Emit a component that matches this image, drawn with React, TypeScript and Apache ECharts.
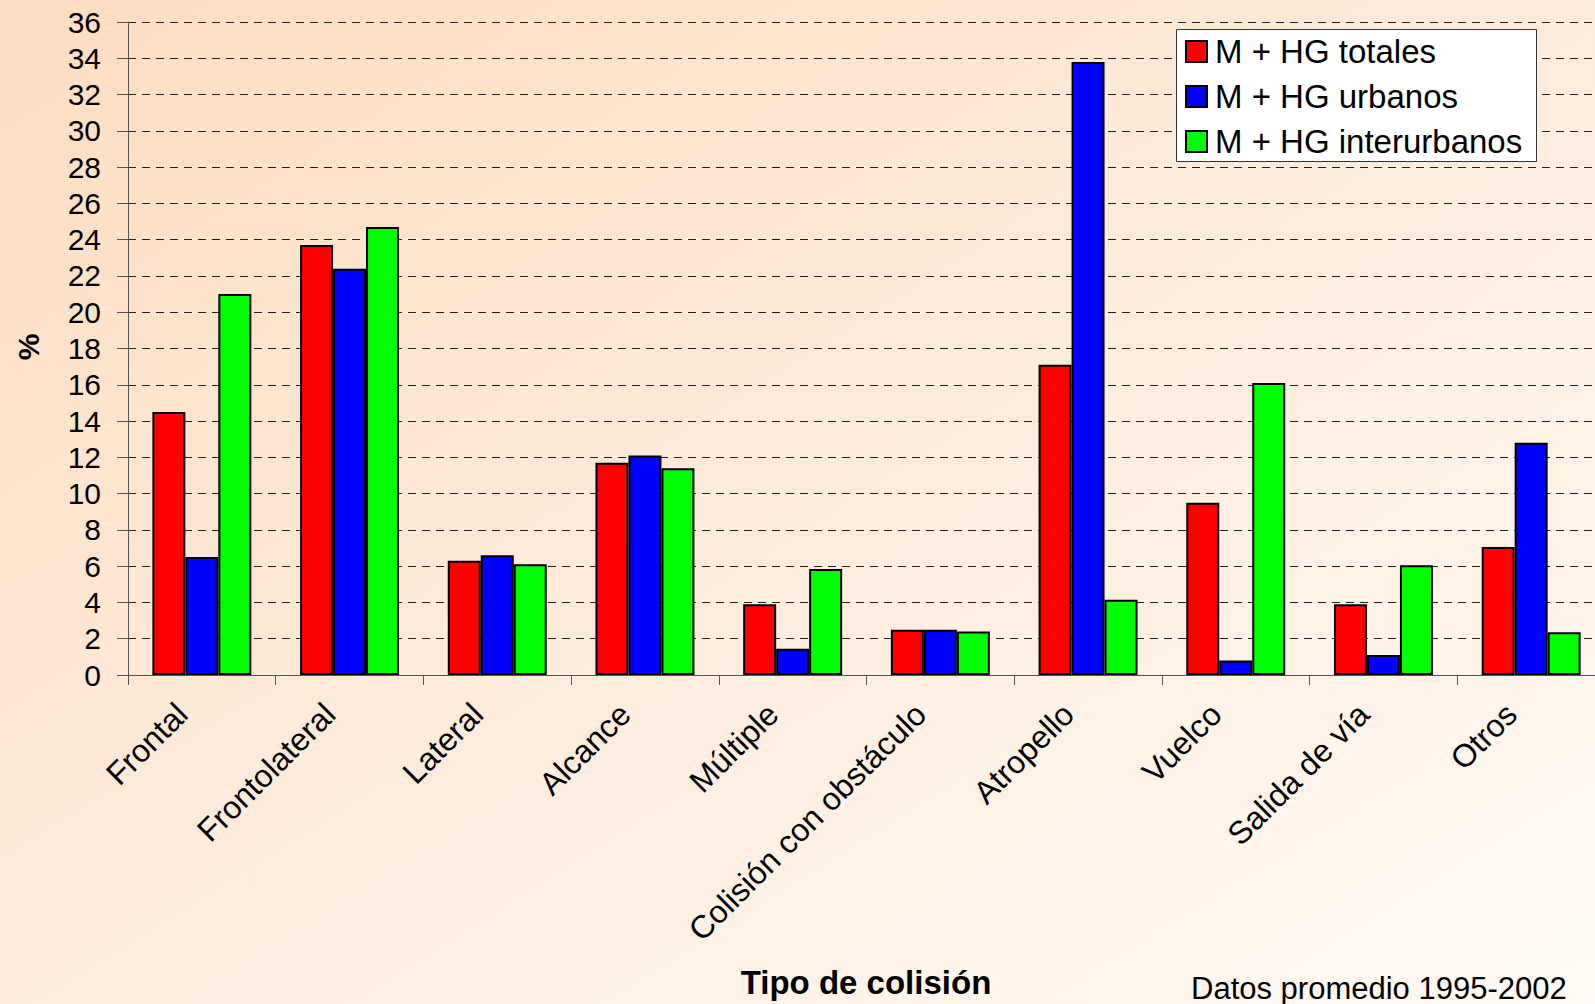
import React, { useEffect, useRef } from "react";
import * as echarts from "echarts";

const categories = [
  "Frontal",
  "Frontolateral",
  "Lateral",
  "Alcance",
  "Múltiple",
  "Colisión con obstáculo",
  "Atropello",
  "Vuelco",
  "Salida de vía",
  "Otros",
];
const totales = [14.5, 23.7, 6.3, 11.7, 3.9, 2.5, 17.1, 9.5, 3.9, 7.05];
const urbanos = [6.5, 22.4, 6.6, 12.1, 1.45, 2.5, 33.8, 0.8, 1.1, 12.8];
const interurbanos = [21.0, 24.7, 6.1, 11.4, 5.85, 2.4, 4.15, 16.1, 6.05, 2.35];
const seriesNames = ["M + HG totales", "M + HG urbanos", "M + HG interurbanos"];
const seriesColors = ["#FF0000", "#0000FF", "#00FF00"];

const FONT = "Liberation Sans, Arial, Helvetica, sans-serif";

export default function App() {
  const ref = useRef<HTMLDivElement>(null);
  useEffect(() => {
    if (!ref.current) return;
    const chart = echarts.init(ref.current, undefined, { renderer: "svg" });
    const data = [totales, urbanos, interurbanos];
    chart.setOption({
      animation: false,
      backgroundColor: {
        type: "linear",
        x: 0,
        y: 0,
        x2: 1,
        y2: 1,
        colorStops: [
          { offset: 0, color: "#FCDDC1" },
          { offset: 1, color: "#FFFAF5" },
        ],
      },
      textStyle: { fontFamily: FONT },
      grid: { left: 128, top: 22, right: 0, height: 653, containLabel: false },
      xAxis: {
        type: "category",
        data: categories,
        axisLine: { show: true, lineStyle: { color: "#555", width: 1 } },
        axisTick: { show: true, length: 10, lineStyle: { color: "#555" } },
        axisLabel: {
          rotate: 45,
          interval: 0,
          margin: 14,
          padding: [0, 28, 0, 0],
          color: "#000",
          fontSize: 32,
          fontFamily: FONT,
        },
        splitLine: { show: false },
      },
      yAxis: {
        type: "value",
        min: 0,
        max: 36,
        interval: 2,
        axisLine: { show: true, lineStyle: { color: "#555", width: 1 } },
        axisTick: { show: true, length: 11, lineStyle: { color: "#555" } },
        axisLabel: { margin: 27, color: "#000", fontSize: 30, fontFamily: FONT },
        splitLine: { show: true, lineStyle: { color: "#222", width: 1, type: [8, 6] } },
      },
      legend: {
        orient: "vertical",
        left: 1185,
        top: 35,
        z: 10,
        icon: "rect",
        itemWidth: 21,
        itemHeight: 21,
        itemGap: 12,
        padding: 0,
        itemStyle: { borderColor: "#000", borderWidth: 2 },
        textStyle: { fontSize: 33, color: "#000", fontFamily: FONT, padding: [0, 0, 0, 3] },
        data: seriesNames,
      },
      graphic: [
        {
          type: "rect",
          left: 1176,
          top: 29,
          z: 3,
          shape: { width: 360, height: 132 },
          style: { fill: "#FFFFFF", stroke: "#333", lineWidth: 1 },
        },
        {
          type: "text",
          x: 28,
          y: 347,
          rotation: Math.PI / 2,
          style: {
            text: "%",
            font: `bold 30px ${FONT}`,
            fill: "#000",
            align: "center",
            verticalAlign: "middle",
          },
        },
        {
          type: "text",
          x: 866,
          y: 982,
          style: {
            text: "Tipo de colisión",
            font: `bold 33px ${FONT}`,
            fill: "#000",
            align: "center",
            verticalAlign: "middle",
          },
        },
        {
          type: "text",
          x: 1191,
          y: 988,
          style: {
            text: "Datos promedio 1995-2002",
            font: `31px ${FONT}`,
            fill: "#000",
            align: "left",
            verticalAlign: "middle",
          },
        },
      ],
      series: seriesNames.map((name, i) => ({
        name,
        type: "bar",
        data: data[i],
        barGap: "0%",
        barCategoryGap: "33%",
        itemStyle: { color: seriesColors[i], borderColor: "#000", borderWidth: 2 },
      })),
    });
    return () => chart.dispose();
  }, []);
  return (
    <div
      style={{
        position: "fixed",
        left: 0,
        top: 0,
        width: 1595,
        height: 1004,
        overflow: "hidden",
      }}
    >
      <div ref={ref} style={{ position: "absolute", left: 0, top: 0, width: 1605, height: 1004 }} />
    </div>
  );
}
